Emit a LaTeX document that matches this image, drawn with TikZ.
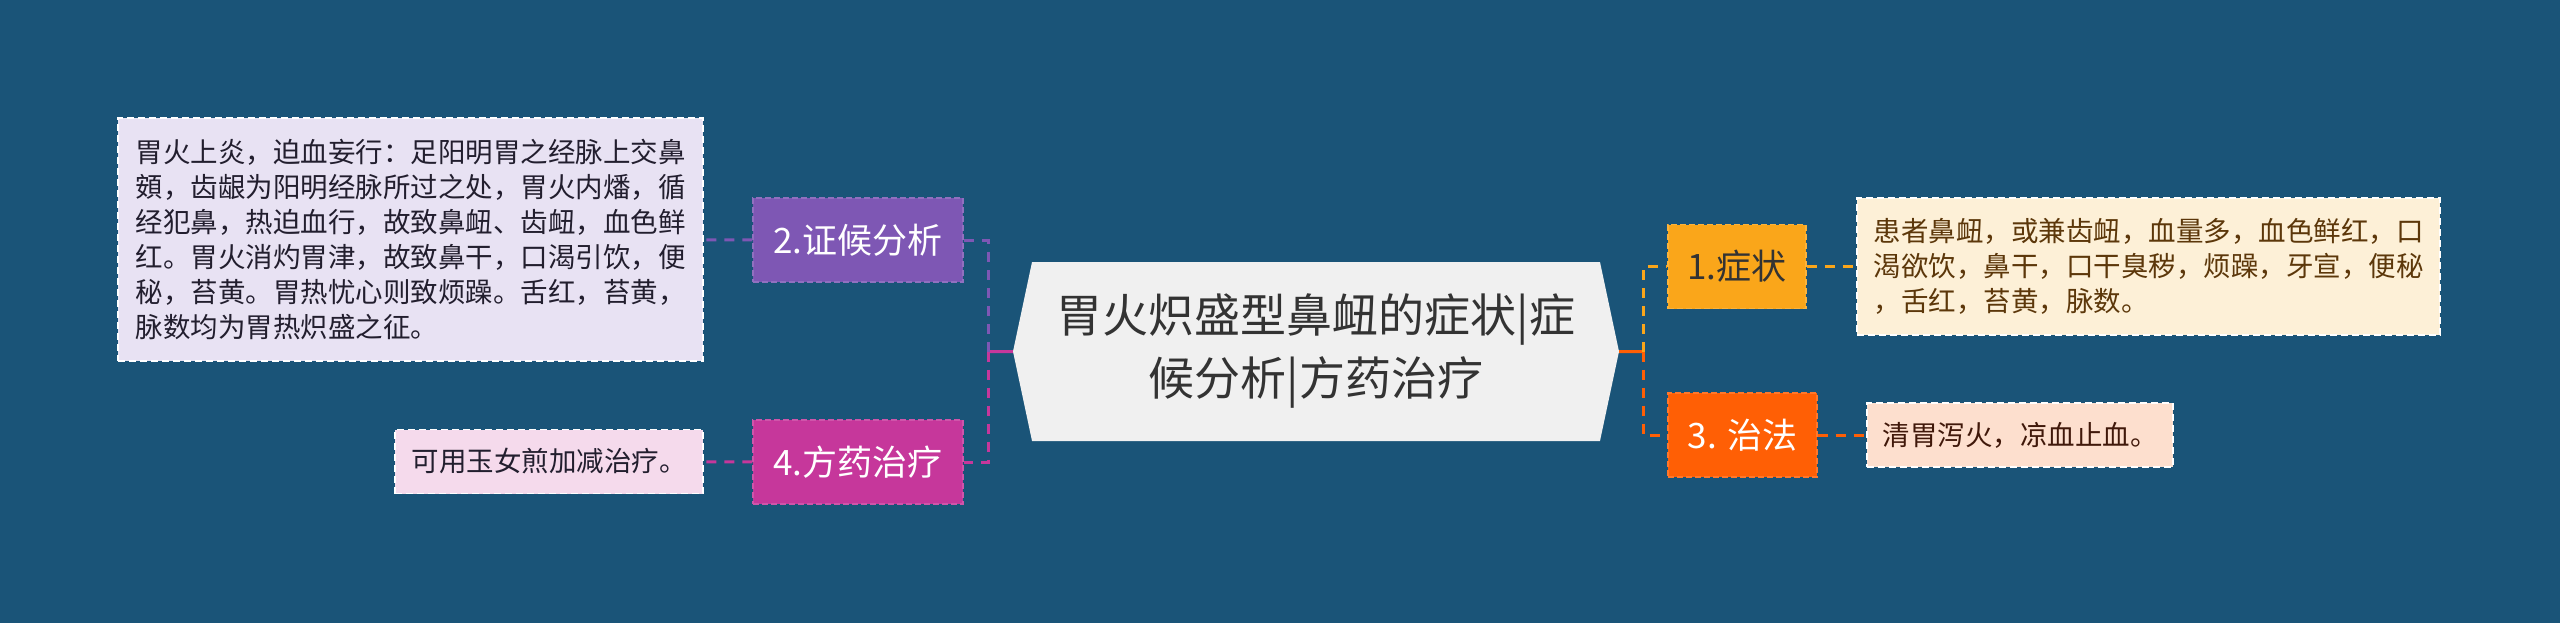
\documentclass[tikz,border=0pt]{standalone}
\usepackage{fontspec}
\setmainfont{Noto Sans CJK SC}
\usepackage{tikz}
\usetikzlibrary{
  shapes.symbols,
  chains,
  scopes
}
\definecolor{bgblue}{RGB}{26,84,120}
\definecolor{topicgray}{RGB}{240,240,240}
\definecolor{topictext}{RGB}{51,51,51}
\definecolor{purp}{RGB}{126,87,180}
\definecolor{magen}{RGB}{198,55,155}
\definecolor{amber}{RGB}{250,166,26}
\definecolor{flame}{RGB}{255,95,5}
\definecolor{lilac}{RGB}{232,226,243}
\definecolor{blush}{RGB}{245,218,236}
\definecolor{cream}{RGB}{253,240,215}
\definecolor{peach}{RGB}{253,223,206}
\definecolor{inkdark}{RGB}{34,30,46}
\definecolor{inkbrown}{RGB}{92,55,10}
\definecolor{inkred}{RGB}{64,24,10}

\begin{document}
\begin{tikzpicture}[
      x=1pt,y=-1pt,
      topic/.style={
         signal,
         signal to=west and east,
         signal pointer angle=156,
         fill=topicgray,
         text=topictext,
         minimum width=606pt,
         minimum height=179pt,
         inner sep=0pt,
         align=center,
         font=\fontsize{46}{63}\selectfont
      },
      branch/.style={
         rectangle,
         minimum height=84pt,
         inner sep=0pt,
         line width=1.5pt,
         dash pattern=on 6pt off 3pt,
         text=white,
         font=\fontsize{35}{40}\selectfont
      },
      leaf/.style={
         rectangle,
         inner sep=0pt,
         draw=white,
         line width=1.5pt,
         dash pattern=on 7pt off 4pt,
         align=left,
         font=\fontsize{27.5}{35}\selectfont
      },
      point/.style={coordinate},
      every join/.style={line width=3pt, dash pattern=on 10pt off 8pt},
      stub/.style={solid},
      vh path/.style={to path={|- (\tikztotarget)}}
    ]
    \fill[bgblue] (0,0) rectangle (2560,623);

    % centre
    \node (root) [topic] at (1316,351.5) {胃火炽盛型鼻衄的症状|症\\候分析|方药治疗};
    \node (lj) [point] at (988,351.5) {};
    \node (rj) [point] at (1643,351.5) {};

    % left side
    \node (n2) [branch, fill=purp, draw=purp!85!white, minimum width=210pt] at (858,240) {2.证候分析};
    \node (n4) [branch, fill=magen, draw=magen!85!white, minimum width=210pt] at (858,462) {4.方药治疗};
    \node (l2) [leaf, fill=lilac, text=inkdark, minimum width=585pt, minimum height=243pt] at (410.5,239.5)
      {胃火上炎，迫血妄行：足阳明胃之经脉上交鼻\\
       頞，齿龈为阳明经脉所过之处，胃火内燔，循\\
       经犯鼻，热迫血行，故致鼻衄、齿衄，血色鲜\\
       红。胃火消灼胃津，故致鼻干，口渴引饮，便\\
       秘，苔黄。胃热忧心则致烦躁。舌红，苔黄，\\
       脉数均为胃热炽盛之征。};
    \node (l4) [leaf, fill=blush, text=inkdark, minimum width=308pt, minimum height=64pt] at (549,461.5) {可用玉女煎加减治疗。};

    % right side
    \node (n1) [branch, fill=amber, draw=amber!85!white, text=topictext, minimum width=138pt] at (1737,266.5) {1.症状};
    \node (n3) [branch, fill=flame, draw=flame!85!white, minimum width=149pt] at (1742.5,435) {3. 治法};
    \node (l1) [leaf, fill=cream, text=inkbrown, minimum width=583pt, minimum height=137pt] at (2148.5,266.5)
      {患者鼻衄，或兼齿衄，血量多，血色鲜红，口\\
       渴欲饮，鼻干，口干臭秽，烦躁，牙宣，便秘\\
       ，舌红，苔黄，脉数。};
    \node (l3) [leaf, fill=peach, text=inkred, minimum width=306pt, minimum height=64pt] at (2020,435) {清胃泻火，凉血止血。};

  { [start chain]
       \chainin (root);
       \chainin (lj)    [join=by {stub,magen}];
  }
  { [start chain]
       \chainin (lj);
       \chainin (n2)    [join=by {vh path,purp}];
       \chainin (l2)    [join=by purp];
  }
  { [start chain]
       \chainin (lj);
       \chainin (n4)    [join=by {vh path,magen}];
       \chainin (l4)    [join=by magen];
  }
  { [start chain]
       \chainin (root);
       \chainin (rj)    [join=by {stub,flame}];
  }
  { [start chain]
       \chainin (rj);
       \chainin (n1)    [join=by {vh path,amber}];
       \chainin (l1)    [join=by amber];
  }
  { [start chain]
       \chainin (rj);
       \chainin (n3)    [join=by {vh path,flame}];
       \chainin (l3)    [join=by flame];
  }
\end{tikzpicture}
\end{document}
